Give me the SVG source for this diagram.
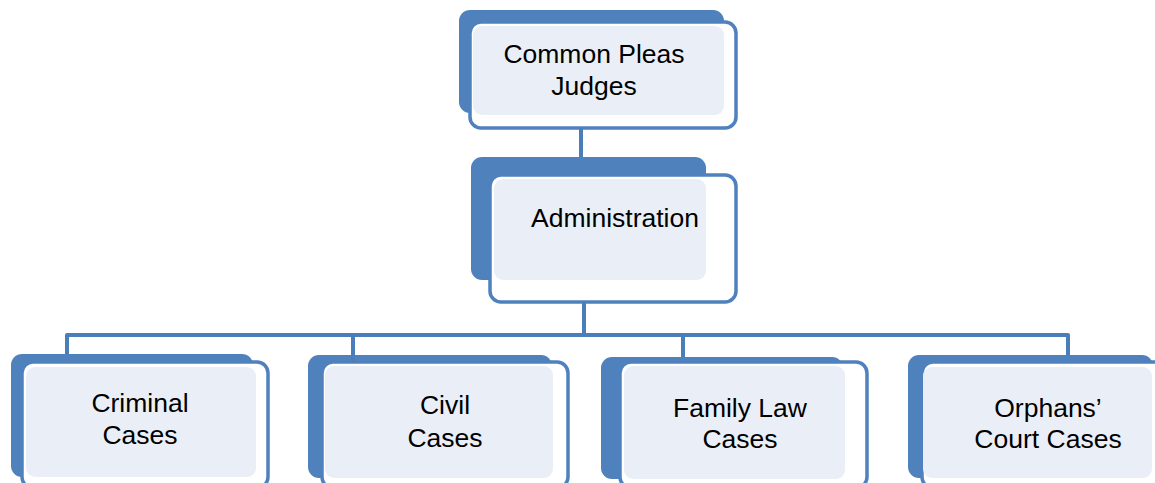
<svg xmlns="http://www.w3.org/2000/svg" width="1155" height="483" viewBox="0 0 1155 483">
  <style>
    .back { fill: #4F81BD; }
    .frame { fill: #FFFFFF; stroke: #4F81BD; stroke-width: 3.5; }
    .face { fill: #EAEFF7; }
    .label { font-family: "Liberation Sans", Arial, sans-serif; font-size: 26.5px; fill: #000000; text-anchor: middle; }
    .link { fill: none; stroke: #4A7EBB; stroke-width: 4; stroke-linejoin: round; }
  </style>

  <rect x="0" y="0" width="1155" height="483" fill="#FFFFFF"/>

  <!-- Top node -->
  <g id="node-judges">
    <rect class="back" x="459" y="10" width="265" height="103" rx="11"/>
    <rect class="frame" x="470" y="22" width="266" height="106" rx="11"/>
    <rect class="face" x="473" y="26" width="251" height="89" rx="9"/>
    <text class="label" x="594" y="63">Common Pleas</text>
    <text class="label" x="594" y="95">Judges</text>
  </g>

  <!-- Administration -->
  <g id="node-admin">
    <rect class="back" x="471" y="157" width="235" height="123" rx="11"/>
    <rect class="frame" x="490" y="175" width="246" height="127" rx="11"/>
    <rect class="face" x="494" y="179" width="212" height="101" rx="9"/>
    <text class="label" x="615" y="227">Administration</text>
  </g>

  <!-- Bottom row -->
  <g id="node-criminal">
    <rect class="back" x="11" y="354" width="242" height="123" rx="11"/>
    <rect class="frame" x="22" y="362" width="246" height="126" rx="11"/>
    <rect class="face" x="26" y="367" width="230" height="110" rx="9"/>
    <text class="label" x="140" y="412">Criminal</text>
    <text class="label" x="140" y="444">Cases</text>
  </g>

  <g id="node-civil">
    <rect class="back" x="308" y="355" width="244" height="123" rx="11"/>
    <rect class="frame" x="322" y="362" width="246" height="126" rx="11"/>
    <rect class="face" x="325" y="366" width="228" height="112" rx="9"/>
    <text class="label" x="445" y="414">Civil</text>
    <text class="label" x="445" y="447">Cases</text>
  </g>

  <g id="node-family">
    <rect class="back" x="601" y="357" width="242" height="122" rx="11"/>
    <rect class="frame" x="620" y="362" width="247" height="126" rx="11"/>
    <rect class="face" x="624" y="366" width="221" height="113" rx="9"/>
    <text class="label" x="740" y="417">Family Law</text>
    <text class="label" x="740" y="448">Cases</text>
  </g>

  <g id="node-orphans">
    <rect class="back" x="908" y="355" width="245" height="123" rx="11"/>
    <rect class="frame" x="922" y="362" width="250" height="126" rx="11"/>
    <rect class="face" x="923" y="367" width="229" height="111" rx="9"/>
    <text class="label" x="1048" y="417">Orphans’</text>
    <text class="label" x="1048" y="448">Court Cases</text>
  </g>

  <!-- Connectors -->
  <g id="connectors">
    <path class="link" d="M581 128 V157"/>
    <path class="link" d="M584 302 V335"/>
    <path class="link" d="M67 354 V335 H1068 V355"/>
    <path class="link" d="M353 335 V362"/>
    <path class="link" d="M683 335 V357"/>
  </g>
</svg>
